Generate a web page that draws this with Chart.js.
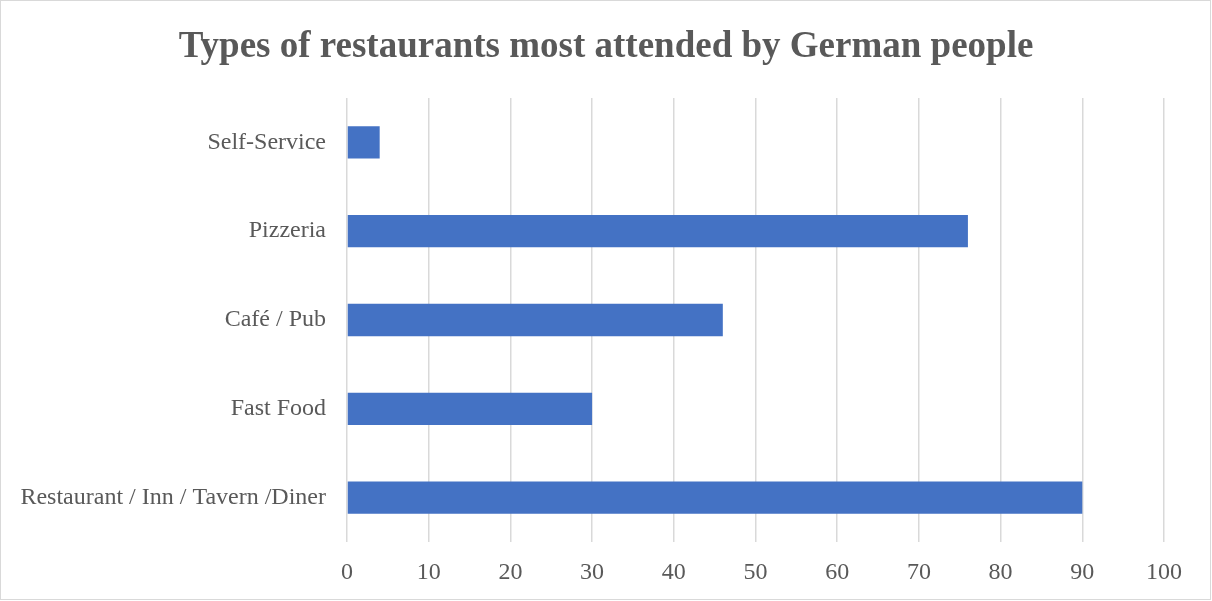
<!DOCTYPE html>
<html>
<head>
<meta charset="utf-8">
<script src="https://cdn.jsdelivr.net/npm/chart.js@4/dist/chart.umd.min.js"></script>
<style>
  html, body { margin: 0; padding: 0; background: #fff; }
  #wrap { width: 1212px; height: 601px; position: relative; }
</style>
</head>
<body>
<div id="wrap"><canvas id="chart"></canvas></div>
<script>
// restaurant types, bottom to top as plotted in the original sheet
const categories = ['Self-Service', 'Pizzeria', 'Café / Pub', 'Fast Food', 'Restaurant / Inn / Tavern /Diner'];
const shares = [4, 76, 46, 30, 90];
const xTicks = [0, 10, 20, 30, 40, 50, 60, 70, 80, 90, 100];
const chartTitle = 'Types of restaurants most attended by German people';

const TEXT = '#595959';
const GRID = '#d9d9d9';
const SERIF = "'Liberation Serif', 'Times New Roman', serif";

// white background, thin frame, and the title centred on the whole canvas
const frame = {
  id: 'frame',
  beforeDraw(chart) {
    const { ctx, width, height } = chart;
    ctx.save();
    ctx.fillStyle = '#fff';
    ctx.fillRect(0, 0, width, height);
    ctx.strokeStyle = GRID;
    ctx.lineWidth = 1;
    ctx.strokeRect(0.5, 0.5, width - 2, height - 2);
    ctx.fillStyle = TEXT;
    ctx.font = `bold 37px ${SERIF}`;
    ctx.textAlign = 'center';
    ctx.textBaseline = 'alphabetic';
    ctx.fillText(chartTitle, width / 2, 57);
    ctx.restore();
  },
};

new Chart(document.getElementById('chart'), {
  type: 'bar',
  data: {
    labels: categories,
    datasets: [{
      data: shares,
      backgroundColor: '#4472c4',
      borderWidth: 0,
      categoryPercentage: 1,
      barPercentage: 0.364,
    }],
  },
  plugins: [frame],
  options: {
    indexAxis: 'y',
    responsive: true,
    maintainAspectRatio: false,
    animation: false,
    layout: { padding: { left: 0, right: 48, top: 98, bottom: 0 } },
    plugins: {
      legend: { display: false },
      tooltip: { enabled: false },
      title: { display: false },
    },
    scales: {
      x: {
        min: 0,
        max: 100,
        afterBuildTicks: axis => { axis.ticks = xTicks.map(v => ({ value: v })); },
        afterFit: axis => { axis.height = 59; },
        border: { display: false },
        grid: { color: GRID, lineWidth: 1.5, drawTicks: false },
        ticks: {
          color: TEXT,
          padding: 16,
          maxRotation: 0,
          font: { family: SERIF, size: 24 },
        },
      },
      y: {
        afterFit: axis => { axis.width = 347; },
        border: { display: false },
        grid: { display: false, drawTicks: false },
        ticks: {
          color: TEXT,
          padding: 21,
          font: { family: SERIF, size: 24 },
        },
      },
    },
  },
});
</script>
</body>
</html>
